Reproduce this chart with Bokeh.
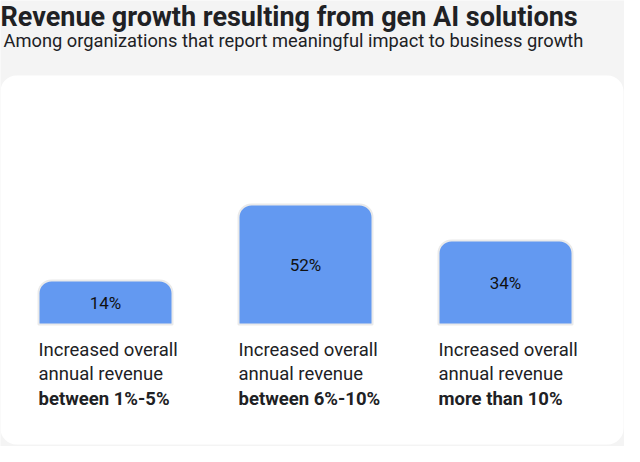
import numpy as np
from bokeh.plotting import figure
from bokeh.models import ColumnDataSource, Range1d, Label, BoxAnnotation
from bokeh.core.properties import value
from bokeh.embed import file_html
from bokeh.resources import INLINE

# ---- data ----
values = [14, 52, 34]
value_labels = ["14%", "52%", "34%"]
line1 = ["Increased overall", "Increased overall", "Increased overall"]
line2 = ["annual revenue", "annual revenue", "annual revenue"]
line3 = ["between 1%-5%", "between 6%-10%", "more than 10%"]
title_text = "Revenue growth resulting from gen AI solutions"
subtitle_text = "Among organizations that report meaningful impact to business growth"

# ---- style ----
BG = "#f4f4f4"
BAR = "#6399f1"
TXT = "#202124"
FONT = "Roboto"
BASE = -8          # visual baseline of the bars (data units)
BAR_W = 0.67

W, H = 624, 446
x = np.arange(len(values))
src = ColumnDataSource(dict(
    x=x, top=values, bottom=[BASE] * len(values),
    mid=[(v + BASE) / 2 for v in values],
    left=x - BAR_W / 2,
    vlab=value_labels, l1=line1, l2=line2, l3=line3,
))

p = figure(width=W, height=H, output_backend="svg", toolbar_location=None,
           x_range=Range1d(-0.525, 2.595), y_range=Range1d(-69, 154),
           min_border=0, min_border_left=0, min_border_right=0,
           min_border_top=0, min_border_bottom=0)
p.axis.visible = False
p.grid.visible = False
p.outline_line_color = None
p.background_fill_color = BG
p.border_fill_color = BG

card = BoxAnnotation(left=0, right=623, top=371, bottom=2,
                     left_units="screen", right_units="screen",
                     top_units="screen", bottom_units="screen",
                     fill_color="white", fill_alpha=1.0, line_color=None,
                     border_radius=16, level="underlay")
p.add_layout(card)

p.vbar(x="x", top="top", bottom="bottom", width=BAR_W, source=src,
       fill_color=BAR, line_color="#eaeaea", line_width=2,
       border_radius=(13, 13, 0, 0))

p.text(x="x", y="mid", text="vlab", source=src, text_align="center",
       text_baseline="middle", text_font=value(FONT),
       text_font_size="17px", text_color="#111111")

for col, off, style in (("l1", 14, "normal"), ("l2", 38.5, "normal"),
                        ("l3", 63, "bold")):
    p.text(x="left", y="bottom", text=col, source=src, text_align="left",
           text_baseline="top", y_offset=off, text_font=value(FONT),
           text_font_style=style, text_font_size="18.5px", text_color=TXT)

p.add_layout(Label(x=0, y=H - 16, x_units="screen", y_units="screen",
                   text=title_text, text_font=FONT, text_font_style="bold",
                   text_font_size="27px", text_color=TXT,
                   text_baseline="alphabetic"))
p.add_layout(Label(x=3, y=H - 40, x_units="screen", y_units="screen",
                   text=subtitle_text, text_font=FONT,
                   text_font_size="18.3px", text_color=TXT,
                   text_baseline="alphabetic"))

open("out.html", "w").write(file_html(p, INLINE))
